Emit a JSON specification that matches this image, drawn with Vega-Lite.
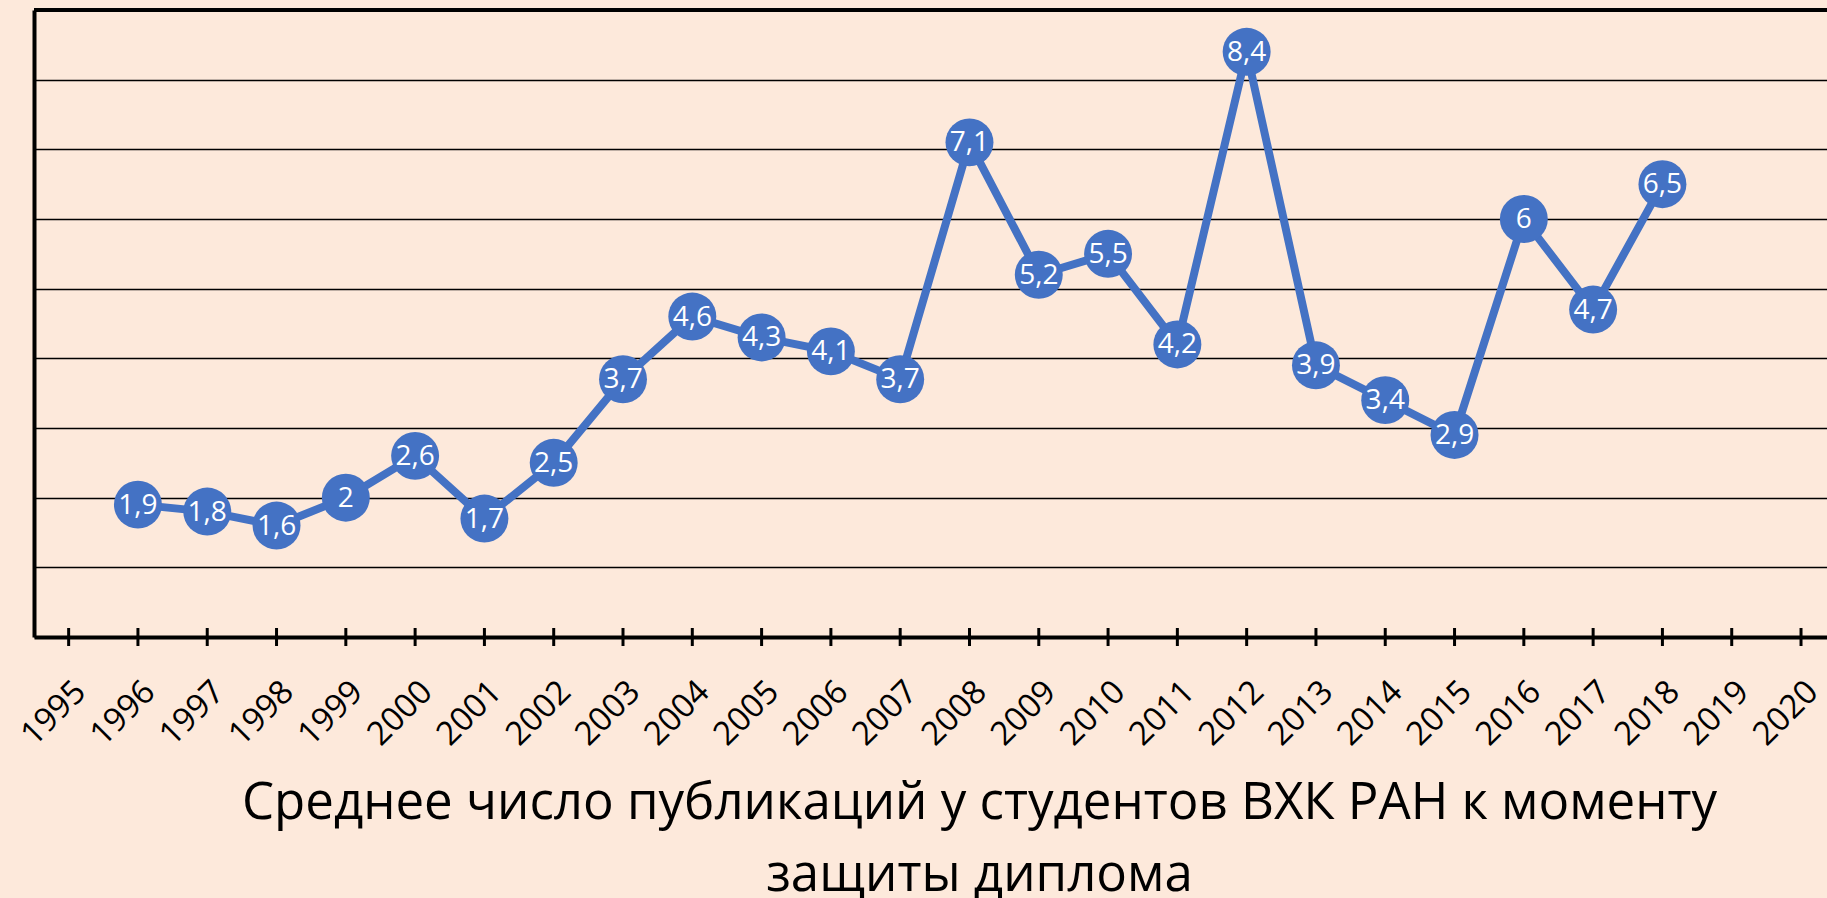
{
  "$schema": "https://vega.github.io/schema/vega-lite/v6.json",
  "autosize": {"type": "none"},
  "width": 1793,
  "height": 627,
  "padding": {"left": 34, "top": 10, "right": 0, "bottom": 261},
  "background": "#fde9db",
  "config": {
    "view": {"stroke": null},
    "font": "Open Sans",
    "locale": {"number": {"decimal": ",", "thousands": " ", "grouping": [3], "currency": ["", ""]}}
  },
  "data": {
    "values": [
      {"year": 1995, "value": null},
      {"year": 1996, "value": 1.9},
      {"year": 1997, "value": 1.8},
      {"year": 1998, "value": 1.6},
      {"year": 1999, "value": 2.0},
      {"year": 2000, "value": 2.6},
      {"year": 2001, "value": 1.7},
      {"year": 2002, "value": 2.5},
      {"year": 2003, "value": 3.7},
      {"year": 2004, "value": 4.6},
      {"year": 2005, "value": 4.3},
      {"year": 2006, "value": 4.1},
      {"year": 2007, "value": 3.7},
      {"year": 2008, "value": 7.1},
      {"year": 2009, "value": 5.2},
      {"year": 2010, "value": 5.5},
      {"year": 2011, "value": 4.2},
      {"year": 2012, "value": 8.4},
      {"year": 2013, "value": 3.9},
      {"year": 2014, "value": 3.4},
      {"year": 2015, "value": 2.9},
      {"year": 2016, "value": 6.0},
      {"year": 2017, "value": 4.7},
      {"year": 2018, "value": 6.5},
      {"year": 2019, "value": null},
      {"year": 2020, "value": null}
    ]
  },
  "layer": [
    {
      "mark": {"type": "line", "color": "#4472c4", "strokeWidth": 8},
      "encoding": {
        "x": {
          "field": "year", "type": "quantitative",
          "scale": {"domain": [1994.5, 2020.375], "nice": false, "zero": false},
          "axis": {
            "values": [1995,1996,1997,1998,1999,2000,2001,2002,2003,2004,2005,2006,2007,2008,2009,2010,2011,2012,2013,2014,2015,2016,2017,2018,2019,2020],
            "format": "d",
            "grid": false,
            "ticks": false,
            "domain": true,
            "domainColor": "black",
            "domainWidth": 4,
            "labelAngle": -45,
            "labelFontSize": 33,
            "labelColor": "black",
            "labelPadding": 38,
            "labelFlush": false,
            "labelOverlap": false,
            "title": ["Среднее число публикаций у студентов ВХК РАН к моменту", "защиты диплома"],
            "titleFontSize": 51,
            "titleFontWeight": "normal",
            "titleColor": "black",
            "titleAlign": "center",
            "titleBaseline": "alphabetic",
            "titleLineHeight": 72,
            "titleX": 945,
            "titleY": 181
          }
        },
        "y": {
          "field": "value", "type": "quantitative",
          "scale": {"domain": [0, 9], "nice": false},
          "axis": {
            "values": [0,1,2,3,4,5,6,7,8,9],
            "labels": false,
            "ticks": false,
            "title": null,
            "domain": true,
            "domainColor": "black",
            "domainWidth": 4,
            "grid": true,
            "gridColor": "black",
            "gridWidth": 1.6
          }
        }
      }
    },
    {
      "mark": {"type": "rule", "color": "black", "strokeWidth": 4},
      "encoding": {"y": {"datum": 9, "type": "quantitative"}}
    },
    {
      "mark": {"type": "tick", "orient": "vertical", "size": 18, "thickness": 3, "color": "black", "opacity": 1},
      "encoding": {
        "x": {"field": "year", "type": "quantitative"},
        "y": {"datum": 0, "type": "quantitative"}
      }
    },
    {
      "mark": {"type": "point", "shape": "circle", "filled": true, "color": "#4472c4", "opacity": 1, "size": 2300},
      "encoding": {
        "x": {"field": "year", "type": "quantitative"},
        "y": {"field": "value", "type": "quantitative"}
      }
    },
    {
      "mark": {"type": "text", "color": "white", "fontSize": 28, "baseline": "middle", "align": "center", "dy": 1},
      "encoding": {
        "x": {"field": "year", "type": "quantitative"},
        "y": {"field": "value", "type": "quantitative"},
        "text": {"field": "value", "type": "quantitative", "format": ".1~f"}
      }
    }
  ]
}
